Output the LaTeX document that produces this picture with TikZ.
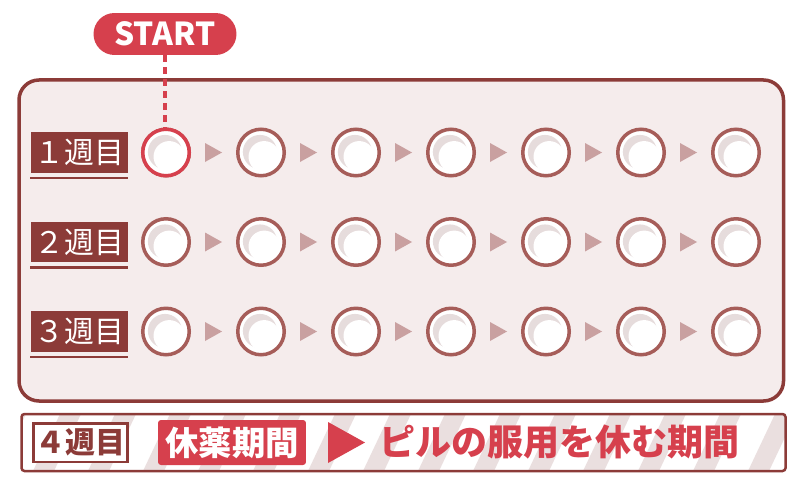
\documentclass[tikz,border=0pt]{standalone}
\usepackage{fontspec}
\newfontfamily\jp{Noto Sans CJK JP}

\definecolor{framebrown}{HTML}{8C3B38}
\definecolor{panelpink}{HTML}{F5ECEC}
\definecolor{pillbrown}{HTML}{A65D59}
\definecolor{pillred}{HTML}{D6404D}
\definecolor{arrowpink}{HTML}{C9A0A0}
\definecolor{shinegray}{HTML}{E6DCDC}
\definecolor{stripegray}{HTML}{EADFDF}

\tikzset{
  pill/.style={circle, draw=pillbrown, fill=white, line width=0.07cm, minimum size=0.93cm, inner sep=0pt,
    path picture={
      \fill[shinegray] (path picture bounding box.center) ++(-0.6pt,0.3pt) circle (9.7pt);
      \fill[white] (path picture bounding box.center) ++(1.8pt,-2.4pt) circle (8.9pt);
    }},
  firstpill/.style={pill, draw=pillred},
  weekbox/.style={fill=framebrown, text=white, font=\jp\fontsize{17}{17}\selectfont,
    minimum width=1.94cm, minimum height=0.82cm, inner sep=0pt},
  startpill/.style={fill=pillred, text=white, font=\jp\bfseries\fontsize{18}{18}\selectfont,
    rounded corners=0.42cm, minimum width=2.86cm, minimum height=0.84cm, inner sep=0pt},
  startline/.style={pillred, line width=0.07cm, dash pattern=on 0.14cm off 0.1cm},
  restweek/.style={draw=framebrown, fill=white, text=framebrown, line width=0.05cm,
    font=\jp\bfseries\fontsize{17}{17}\selectfont, minimum width=1.89cm, minimum height=0.77cm, inner sep=0pt},
  restbox/.style={fill=pillred, text=white, rounded corners=0.06cm, font=\jp\bfseries\fontsize{19}{19}\selectfont,
    minimum width=2.96cm, minimum height=0.9cm, inner sep=0pt},
  resttext/.style={text=pillred, font=\jp\bfseries\fontsize{20.5}{20.5}\selectfont, inner sep=0pt},
}

\begin{document}
\begin{tikzpicture}[x=0.02cm, y=-0.02cm]

\useasboundingbox (0,0) rectangle (800,500);
\fill[white] (0,0) rectangle (800,500);

% panel with three weeks
\draw[framebrown, fill=panelpink, line width=0.07cm, rounded corners=0.4cm] (19,80) rectangle (783.5,401);

\foreach \r/\y/\wk in {1/152.5/１週目, 2/242/２週目, 3/331.5/３週目} {
  \node[weekbox] (w\r) at (79.2, \y) {\wk};
  \draw[framebrown, line width=0.05cm] ([yshift=-0.09cm]w\r.south west) -- ([yshift=-0.09cm]w\r.south east);
  \foreach \c in {1,...,7} {
    \node[pill] (p\r\c) at (71 + 95*\c, \y) {};
  }
  \foreach \c in {1,...,6} {
    \fill[arrowpink] (71 + 95*\c + 39, \y - 9.5) -- ++(17, 9.5) -- ++(-17, 9.5) -- cycle;
  }
}
\node[firstpill] (p11) at (166, 152.5) {};

% start marker
\node[startpill] (start) at (165, 34) {START};
\draw[startline] (start.south) -- (start.south |- p11.north);

% fourth week band
\fill[white] (21.5,414) rectangle (785.5,471);
\begin{scope}
  \clip (21.5,414) rectangle (785.5,471);
  \foreach \i in {-1,...,14} {
    \fill[stripegray] (33 + 55*\i, 471) -- ++(21, 0) -- ++(27, -57) -- ++(-21, 0) -- cycle;
  }
\end{scope}
\draw[framebrown, line width=0.05cm, rounded corners=0.06cm] (21.5,414) rectangle (785.5,471);

\node[restweek] (w4) at (80.5, 442.5) {４週目};
\node[restbox] (rest) at (232, 442.5) {休薬期間};
\fill[pillred] (328,422) -- (365,442.5) -- (328,463) -- cycle;
\node[resttext] (ruletext) at (559.5, 442.5) {ピルの服用を休む期間};

\end{tikzpicture}
\end{document}
